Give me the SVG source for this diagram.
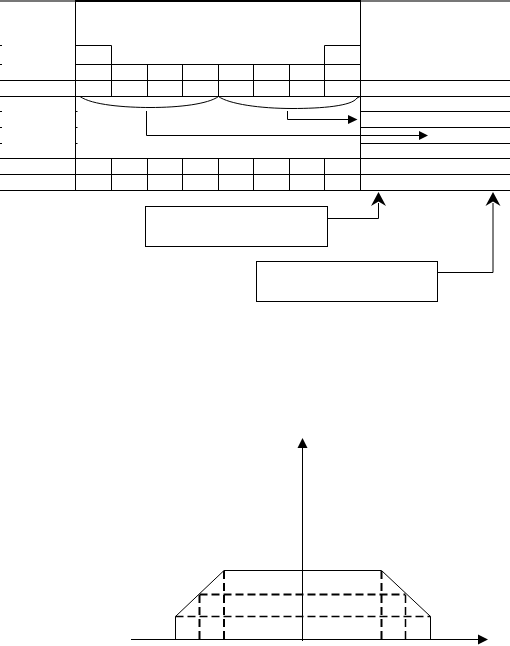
<svg xmlns="http://www.w3.org/2000/svg" width="510" height="646" viewBox="0 0 510 646">
<style>
.l{stroke:#000;stroke-width:1;fill:none}
.d{stroke:#000;stroke-width:2;fill:none;stroke-dasharray:8 4}
.dt{stroke:#000;stroke-width:1.5;fill:none;stroke-dasharray:8 4}
.ah{fill:#000;stroke:none}
</style>
<rect width="510" height="646" fill="#fff"/>
<g id="table">
<line x1="0" y1="1" x2="75" y2="1" stroke="#777" stroke-width="2"/>
<line x1="75" y1="1" x2="360" y2="1" stroke="#000" stroke-width="2"/>
<line x1="360" y1="1" x2="510" y2="1" stroke="#777" stroke-width="2"/>
<path class="l" d="M75.5 0V190.5M360.5 0V190.5"/>
<path class="l" d="M75.5 45.5H111.5V96.5M324.5 96.5V45.5H360.5"/>
<path class="l" d="M75.5 64.5H360.5"/>
<path class="l" d="M147.5 64.5V96.5M182.5 64.5V96.5M218.5 64.5V96.5M253.5 64.5V96.5M289.5 64.5V96.5"/>
<path class="l" d="M0 80.5H510M0 96.5H510M360.5 111.5H510M360.5 127.5H510M360.5 143.5H510M0 158.5H510M0 174.5H510M0 190.5H510"/>
<path class="l" d="M111.5 158.5V190.5M147.5 158.5V190.5M182.5 158.5V190.5M218.5 158.5V190.5M253.5 158.5V190.5M289.5 158.5V190.5M324.5 158.5V190.5"/>
<path class="l" d="M0 45.5H2M0 64.5H2M0 111.5H2M0 127.5H2M0 143.5H2M75.5 111.5H77.5M75.5 127.5H77.5M75.5 143.5H77.5"/>
</g>
<g id="braces">
<path class="l" d="M80 96.5C92 105 125 107.5 150 107.5C180 107.5 208 104 218.5 96.5"/>
<path class="l" d="M218.5 96.5C229 104 260 108.5 292 108.5C322 108.5 352 106 357 98L360 96.5"/>
</g>
<g id="connectors">
<path class="l" d="M146.5 111V135.5H420"/>
<polygon class="ah" points="428,135.5 419,131 419,140"/>
<path class="l" d="M287.5 111V119.5H349"/>
<polygon class="ah" points="357.5,119.5 348,115 348,124"/>
<path class="l" d="M327.5 218.5H378.5V203"/>
<polygon class="ah" points="378.5,192 386,206 378.5,201.5 371,206"/>
<path class="l" d="M437.5 272.5H493V203"/>
<polygon class="ah" points="493,192 500.5,206 493,201.5 485.5,206"/>
</g>
<g id="box1"><rect class="l" x="145.5" y="206.5" width="182" height="40"/></g>
<g id="box2"><rect class="l" x="256.5" y="261.5" width="181" height="40"/></g>
<g id="graph">
<path class="l" d="M131 639.5H479"/>
<polygon class="ah" points="488,639.5 478,634.5 478,644.5"/>
<path class="l" d="M302.5 641V447"/>
<polygon class="ah" points="302.5,438 297.5,448 307.5,448"/>
<path class="l" d="M175.5 639.5V616.5L224 570.5H381.5L430.5 616.5V639.5"/>
<path class="d" d="M199.5 594.5H405.5"/>
<path class="dt" d="M175.5 616.5H430.5"/>
<path class="d" d="M224 571V639M381.5 571V639M199.5 595V639"/>
<path class="dt" d="M405.5 595V639"/>
</g>
</svg>
